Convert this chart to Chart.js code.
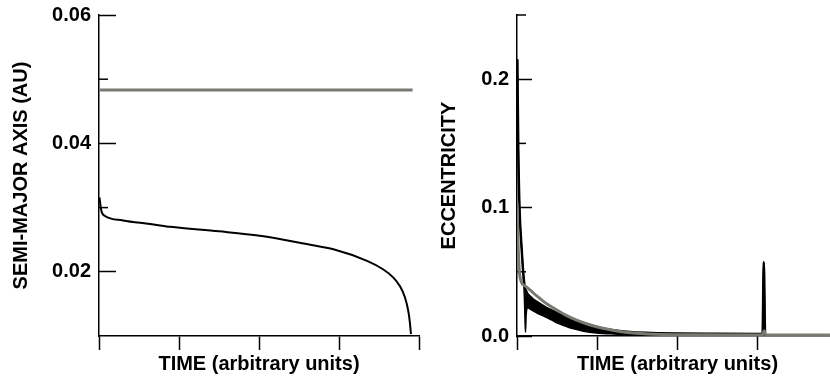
<!DOCTYPE html>
<html>
<head>
<meta charset="utf-8">
<script src="https://cdn.jsdelivr.net/npm/chart.js@4.4.0/dist/chart.umd.min.js"></script>
<style>
  html, body { margin: 0; padding: 0; background: #fff; width: 830px; height: 379px; overflow: hidden; }
  #izq { position: absolute; left: 0; top: 0; }
  #der { position: absolute; left: 430px; top: 0; }
</style>
</head>
<body>
<canvas id="izq" width="430" height="379"></canvas>
<canvas id="der" width="410" height="379"></canvas>
<script>
// left panel: semi-major axis
const tiempoA = [0.006, 0.02, 0.034, 0.075, 0.3, 0.64, 0.89, 1.5, 2.01, 2.64, 2.93, 3.35, 3.55, 3.68, 3.76, 3.825, 3.866, 3.885, 3.9];
const ejeInterno = [0.0316, 0.0302, 0.0293, 0.0287, 0.0280, 0.02745, 0.0270, 0.0263, 0.0256, 0.0242, 0.0235, 0.0217, 0.0204, 0.0191, 0.0178, 0.0160, 0.0139, 0.0122, 0.0103];
const tiempoExterno = [0.0, 3.92];
const ejeExterno = [0.0483, 0.0483];
const ticksA = [0.02, 0.04, 0.06];
const menoresA = [0.03, 0.05];

// right panel: eccentricity (black = envelope of fast oscillation)
const tiempoE = [0.004, 0.010, 0.016, 0.031, 0.059, 0.078, 0.092, 0.100, 0.106, 0.114, 0.13, 0.183, 0.26, 0.35, 0.43, 0.51, 0.60, 0.68, 0.77, 0.85, 0.96, 1.07, 1.20, 1.37, 1.60, 2.00, 2.50, 3.060, 3.075, 3.090];
const excAlta = [0.2156, 0.180, 0.145, 0.100, 0.067, 0.049, 0.040, 0.037, 0.036, 0.035, 0.033, 0.0295, 0.026, 0.0225, 0.020, 0.0175, 0.0155, 0.0135, 0.0115, 0.0098, 0.0077, 0.0058, 0.0045, 0.0034, 0.0025, 0.0019, 0.0017, 0.0016, 0.0576, 0.0016];
const excBaja = [0.2156, 0.180, 0.145, 0.100, 0.067, 0.049, 0.030, 0.012, 0.003, 0.016, 0.022, 0.0202, 0.0175, 0.015, 0.0125, 0.0099, 0.0078, 0.006, 0.0046, 0.0034, 0.0026, 0.002, 0.0016, 0.0012, 0.001, 0.001, 0.001, 0.001, 0.0576, 0.001];
const tiempoGris = [0.0, 0.016, 0.037, 0.10, 0.16, 0.25, 0.35, 0.45, 0.60, 0.75, 0.90, 1.07, 1.28, 1.49, 1.8, 2.2, 3.06, 3.08, 3.10, 3.9];
const excGris = [0.104, 0.067, 0.046, 0.039, 0.036, 0.031, 0.026, 0.022, 0.0165, 0.0122, 0.0088, 0.006, 0.0035, 0.0021, 0.0012, 0.0009, 0.0008, 0.004, 0.0008, 0.0008];
const ticksE = [0.0, 0.1, 0.2];
const menoresE = [0.05, 0.15, 0.25];

const ticksTiempo = [0, 1, 2, 3, 4];

const GRIS = '#767a72';
Chart.defaults.font.family = "'Liberation Sans', Arial, sans-serif";
Chart.defaults.font.weight = 'bold';
Chart.defaults.color = '#000';

function puntos(xs, ys) {
  return xs.map((x, i) => ({x: x, y: ys[i]}));
}

// short inward ticks for the unlabeled values
const ticksMenores = {
  id: 'ticksMenores',
  beforeDatasetsDraw(chart, args, opts) {
    const s = chart.scales.y;
    const ctx = chart.ctx;
    ctx.save();
    ctx.strokeStyle = '#000';
    ctx.lineWidth = 1.5;
    opts.valores.forEach(v => {
      const y = s.getPixelForValue(v);
      ctx.beginPath();
      ctx.moveTo(s.right, y);
      ctx.lineTo(s.right + opts.largo, y);
      ctx.stroke();
    });
    ctx.restore();
  }
};

function opciones(cfg) {
  return {
    responsive: false,
    animation: false,
    devicePixelRatio: 1,
    layout: { padding: { left: 0, right: cfg.derecha, top: 15, bottom: 0 } },
    plugins: {
      legend: { display: false },
      tooltip: { enabled: false },
      ticksMenores: { valores: cfg.menores, largo: 9 }
    },
    elements: { point: { radius: 0 } },
    scales: {
      x: {
        type: 'linear', min: 0, max: 4,
        afterBuildTicks: s => { s.ticks = ticksTiempo.map(v => ({value: v})); },
        afterFit: s => { s.height = 43; },
        grid: { drawOnChartArea: false, tickLength: 14, tickWidth: 1.5, tickColor: '#000' },
        border: { color: '#000', width: 1.5 },
        ticks: { display: false },
        title: { display: true, text: 'TIME (arbitrary units)', font: { size: 20, weight: 'bold' }, padding: { top: 0, bottom: 3 } }
      },
      y: {
        type: 'linear', min: cfg.min, max: cfg.max,
        afterBuildTicks: s => { s.ticks = cfg.ticks.map(v => ({value: v})); },
        afterFit: s => { s.width = cfg.ancho; s.paddingTop = 0; s.paddingBottom = 0; },
        grid: { drawOnChartArea: false, tickLength: -cfg.largoTick, tickWidth: 1.5, tickColor: '#000' },
        border: { color: '#000', width: 1.5 },
        ticks: { padding: cfg.largoTick + 8, font: { size: 20, weight: 'bold' }, callback: v => v.toFixed(cfg.decimales) },
        title: { display: true, text: cfg.titulo, font: { size: 20, weight: 'bold' }, padding: { top: cfg.margenTitulo, bottom: 0 } }
      }
    }
  };
}

new Chart(document.getElementById('izq'), {
  type: 'line',
  data: {
    datasets: [
      { data: puntos(tiempoExterno, ejeExterno), borderColor: GRIS, borderWidth: 3 },
      { data: puntos(tiempoA, ejeInterno), borderColor: '#000', borderWidth: 2, cubicInterpolationMode: 'monotone' }
    ]
  },
  options: opciones({ derecha: 11, min: 0.01, max: 0.06, ticks: ticksA, menores: menoresA, ancho: 99, largoTick: 17,
    decimales: 2, titulo: 'SEMI-MAJOR AXIS (AU)', margenTitulo: 9 }),
  plugins: [ticksMenores]
});

new Chart(document.getElementById('der'), {
  type: 'line',
  data: {
    datasets: [
      { data: puntos(tiempoGris, excGris), borderColor: GRIS, borderWidth: 3, cubicInterpolationMode: 'monotone' },
      { data: puntos(tiempoE, excAlta), borderColor: '#000', borderWidth: 2.5, cubicInterpolationMode: 'monotone' },
      { data: puntos(tiempoE, excBaja), borderColor: '#000', borderWidth: 1.5, cubicInterpolationMode: 'monotone',
        fill: 1, backgroundColor: '#000' }
    ]
  },
  options: opciones({ derecha: 2, min: 0, max: 0.25, ticks: ticksE, menores: menoresE, ancho: 87, largoTick: 15,
    decimales: 1, titulo: 'ECCENTRICITY', margenTitulo: 7 }),
  plugins: [ticksMenores]
});
</script>
</body>
</html>
